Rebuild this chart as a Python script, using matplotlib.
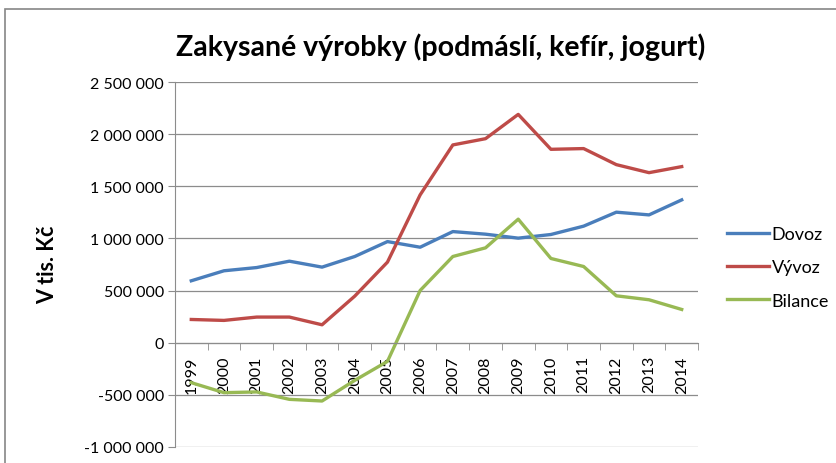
import matplotlib
matplotlib.use('Agg')
import matplotlib.pyplot as plt
from matplotlib.ticker import FuncFormatter, FixedLocator
from matplotlib.patches import Rectangle

plt.rcParams['font.family'] = ['Lato', 'DejaVu Sans']

# data (thousands CZK)
years = [str(y) for y in range(1999, 2015)]
dovoz = [594, 690, 721, 782, 725, 827, 970, 916, 1066, 1041, 1003, 1038, 1118, 1252, 1226, 1370]
vyvoz = [223, 214, 246, 246, 172, 447, 773, 1418, 1897, 1957, 2190, 1855, 1862, 1708, 1631, 1689]
bilance = [-383, -479, -472, -543, -559, -361, -179, 501, 827, 910, 1185, 808, 731, 450, 412, 319]

dovoz = [v * 1000 for v in dovoz]
vyvoz = [v * 1000 for v in vyvoz]
bilance = [v * 1000 for v in bilance]

fig = plt.figure(figsize=(8.37, 4.64), dpi=100)
ax = fig.add_axes([0.209, 0.0345, 0.625, 0.7865])

# spine position first (it resets tick settings)
for s in ['top', 'right']:
    ax.spines[s].set_visible(False)
ax.spines['bottom'].set_position(('data', 0))
ax.spines['bottom'].set_color('#8c8c8c')
ax.spines['left'].set_color('#8c8c8c')

x = list(range(len(years)))
ax.plot(x, dovoz, color='#4A7EBB', lw=2.4, label='Dovoz')
ax.plot(x, vyvoz, color='#BE4B48', lw=2.4, label='Vývoz')
ax.plot(x, bilance, color='#98B954', lw=2.4, label='Bilance')

ax.set_xlim(-0.5, len(years) - 0.5)
ax.set_ylim(-1000000, 2500000)
ax.set_yticks(range(-1000000, 2500001, 500000))
ax.yaxis.set_major_formatter(FuncFormatter(lambda v, p: f'{int(v):,}'.replace(',', ' ')))
ax.grid(axis='y', color='#8c8c8c', lw=0.9)
ax.set_axisbelow(True)

ax.set_xticks(x)
ax.set_xticklabels(years)
ax.xaxis.set_minor_locator(FixedLocator([i - 0.5 for i in range(len(years) + 1)]))
ax.tick_params(axis='x', which='major', length=0, pad=9, labelrotation=90, labelsize=11.5)
ax.tick_params(axis='x', which='minor', length=5, color='#8c8c8c', direction='out')
ax.tick_params(axis='y', length=5, color='#8c8c8c', labelsize=11.5, pad=3)

fig.text(48 / 837, 1 - 265 / 464, 'V tis. Kč', fontsize=15.5, fontweight='bold',
         rotation=90, ha='center', va='center')
fig.text(0.527, 0.898, 'Zakysané výrobky (podmáslí, kefír, jogurt)', fontsize=20.5,
         fontweight='bold', ha='center', va='center')

ax.legend(loc='center left', bbox_to_anchor=(1.025, 0.492), frameon=False,
          fontsize=13, handlelength=2.3, handletextpad=0.15, labelspacing=0.95)

fig.add_artist(Rectangle((5 / 837, -0.1), 1.2, 1.1 - 10 / 464, transform=fig.transFigure,
                         fill=False, edgecolor='#868686', lw=1.2))

fig.savefig('out.png', dpi=100)
